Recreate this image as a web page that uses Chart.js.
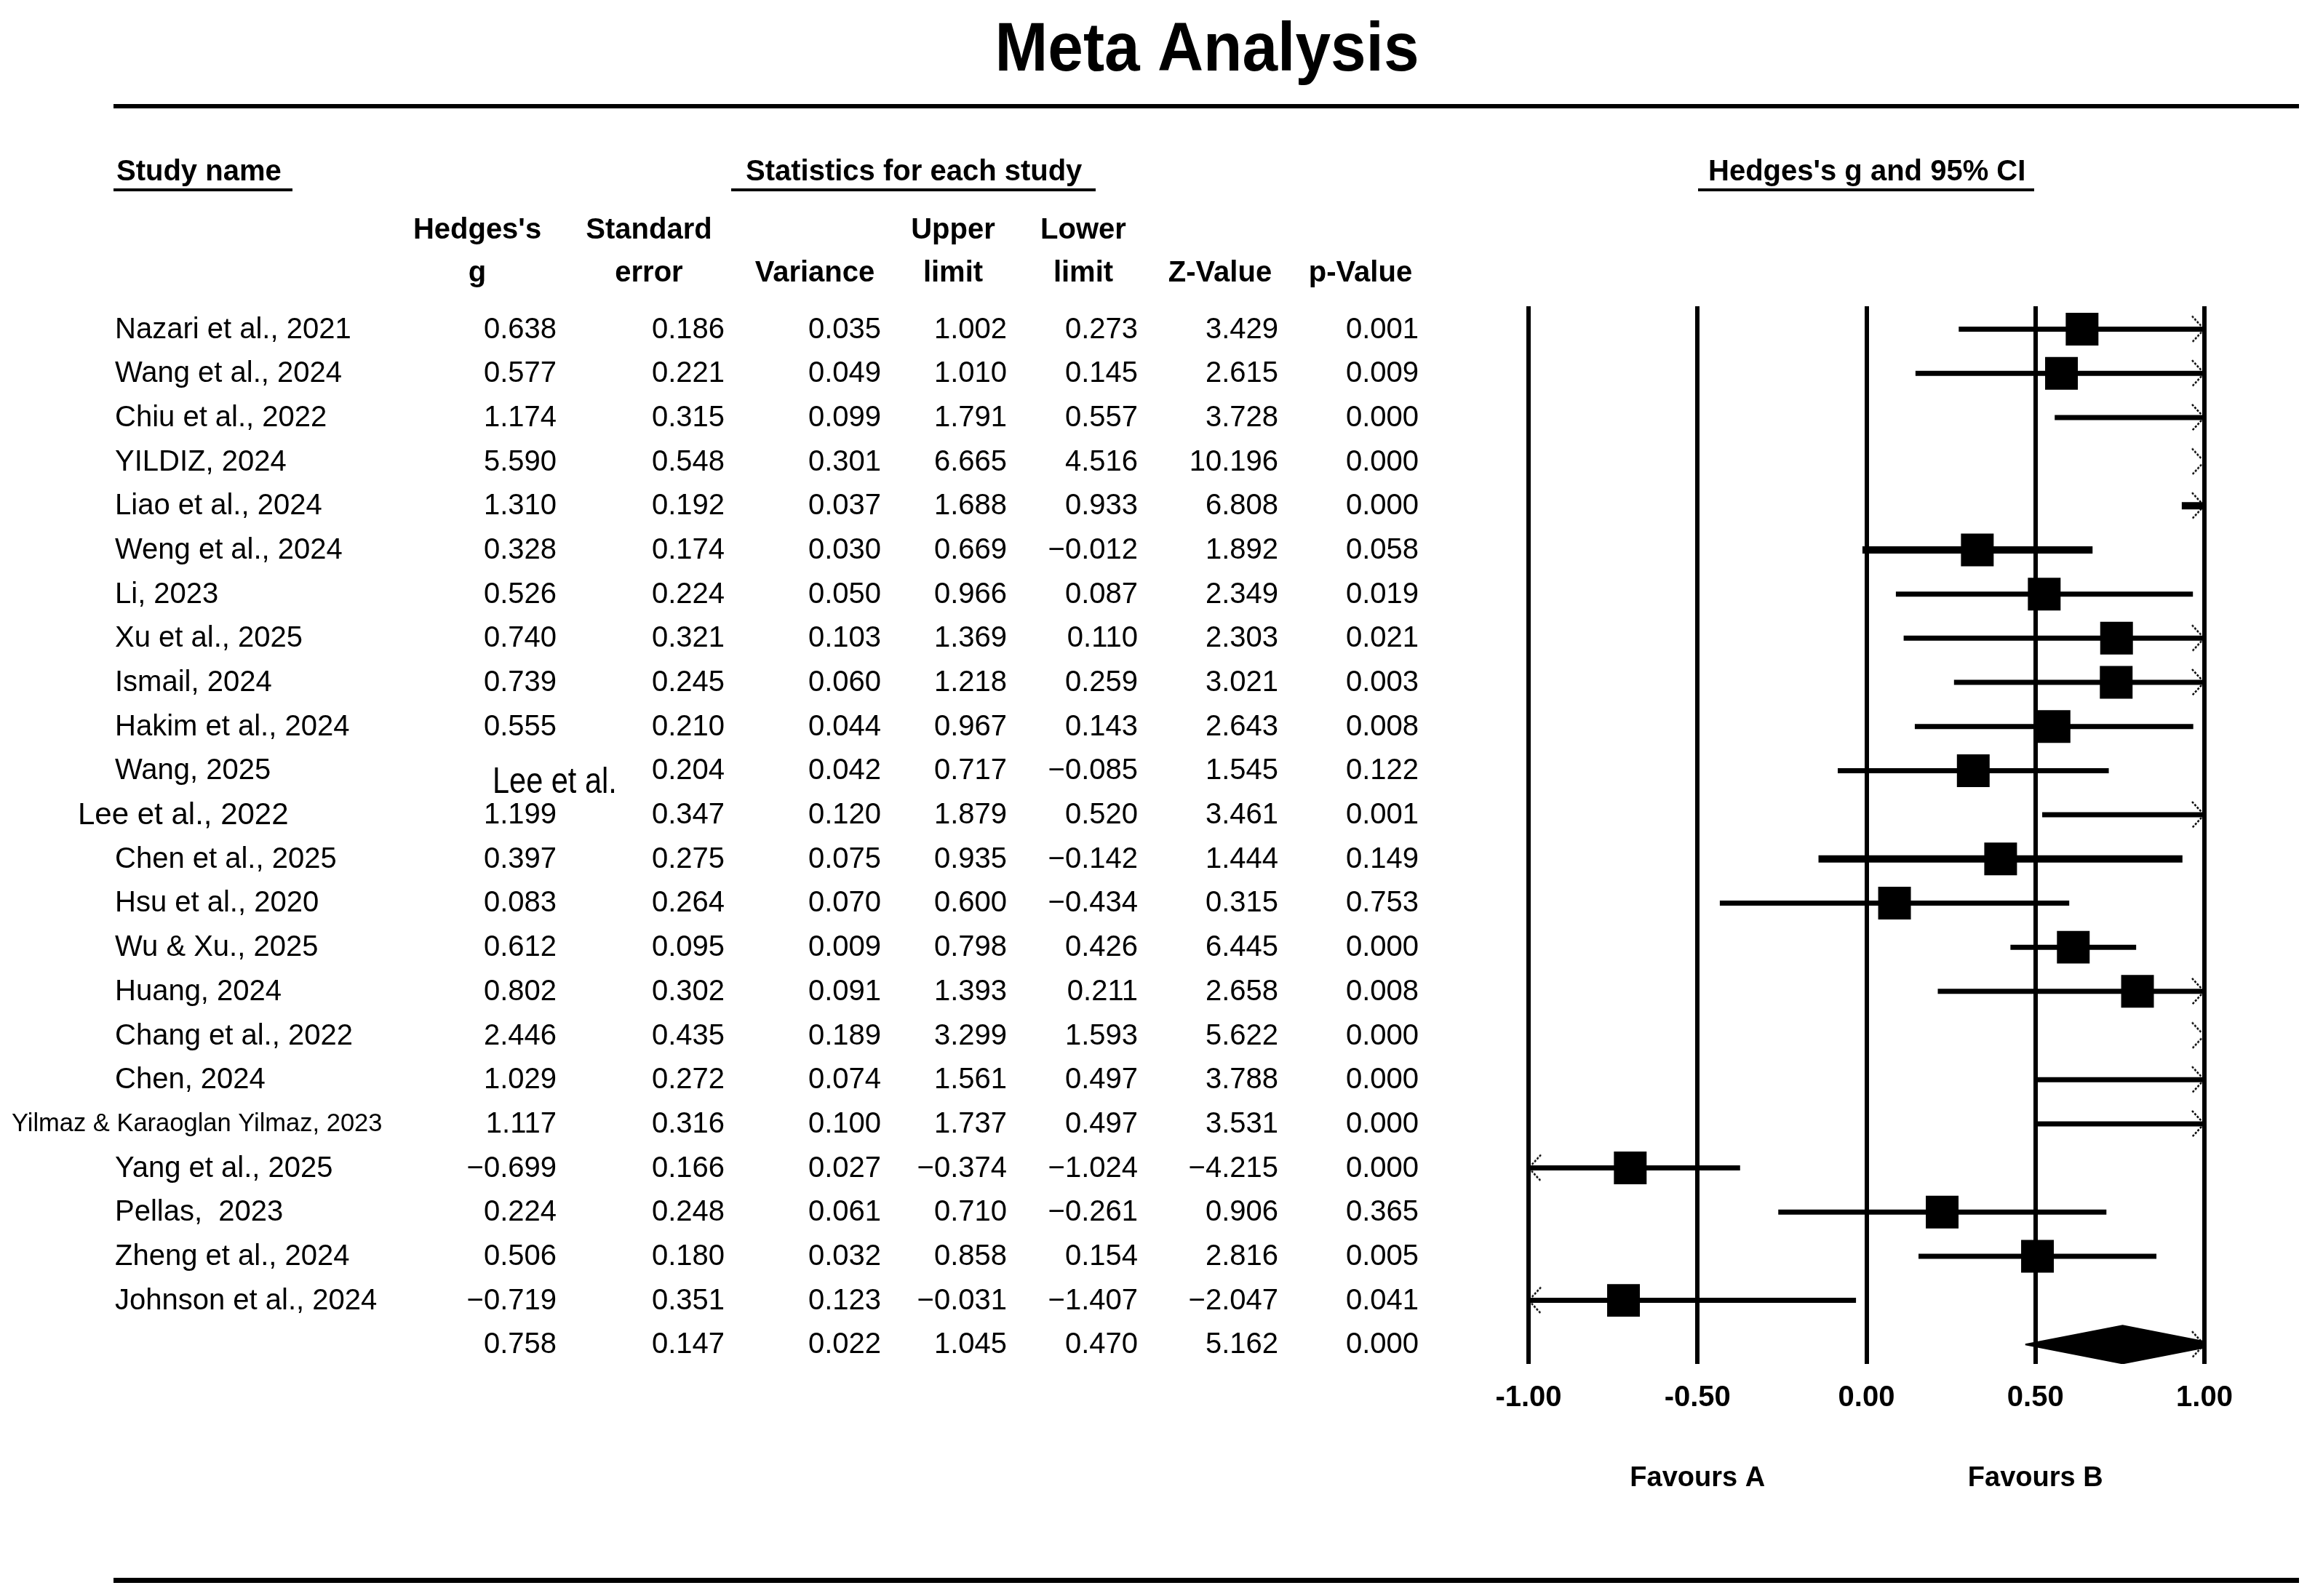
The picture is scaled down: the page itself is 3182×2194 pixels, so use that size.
<!DOCTYPE html>
<html>
<head>
<meta charset="utf-8">
<title>Meta Analysis</title>
<script src="https://cdn.jsdelivr.net/npm/chart.js@4.4.1/dist/chart.umd.min.js"></script>
<style>
  html, body { margin: 0; padding: 0; background: #fff; }
  canvas { display: block; }
</style>
</head>
<body>
<canvas id="forest" width="3182" height="2194"></canvas>
<script>
// rows top to bottom, the last value of each list is the pooled estimate
const studies = [
    "Nazari et al., 2021", "Wang et al., 2024", "Chiu et al., 2022", "YILDIZ, 2024",
    "Liao et al., 2024", "Weng et al., 2024", "Li, 2023", "Xu et al., 2025",
    "Ismail, 2024", "Hakim et al., 2024", "Wang, 2025", "Lee et al., 2022",
    "Chen et al., 2025", "Hsu et al., 2020", "Wu & Xu., 2025", "Huang, 2024",
    "Chang et al., 2022", "Chen, 2024", "Yilmaz & Karaoglan Yilmaz, 2023", "Yang et al., 2025",
    "Pellas,  2023", "Zheng et al., 2024", "Johnson et al., 2024"
];
const hedgesG = [0.638, 0.577, 1.174, 5.590, 1.310, 0.328, 0.526, 0.740, 0.739, 0.555, 0.316, 1.199,
    0.397, 0.083, 0.612, 0.802, 2.446, 1.029, 1.117, -0.699, 0.224, 0.506, -0.719, 0.758];
const stdError = [0.186, 0.221, 0.315, 0.548, 0.192, 0.174, 0.224, 0.321, 0.245, 0.210, 0.204, 0.347,
    0.275, 0.264, 0.095, 0.302, 0.435, 0.272, 0.316, 0.166, 0.248, 0.180, 0.351, 0.147];
const variance = [0.035, 0.049, 0.099, 0.301, 0.037, 0.030, 0.050, 0.103, 0.060, 0.044, 0.042, 0.120,
    0.075, 0.070, 0.009, 0.091, 0.189, 0.074, 0.100, 0.027, 0.061, 0.032, 0.123, 0.022];
const upperLimit = [1.002, 1.010, 1.791, 6.665, 1.688, 0.669, 0.966, 1.369, 1.218, 0.967, 0.717, 1.879,
    0.935, 0.600, 0.798, 1.393, 3.299, 1.561, 1.737, -0.374, 0.710, 0.858, -0.031, 1.045];
const lowerLimit = [0.273, 0.145, 0.557, 4.516, 0.933, -0.012, 0.087, 0.110, 0.259, 0.143, -0.085, 0.520,
    -0.142, -0.434, 0.426, 0.211, 1.593, 0.497, 0.497, -1.024, -0.261, 0.154, -1.407, 0.470];
const zValue = [3.429, 2.615, 3.728, 10.196, 6.808, 1.892, 2.349, 2.303, 3.021, 2.643, 1.545, 3.461,
    1.444, 0.315, 6.445, 2.658, 5.622, 3.788, 3.531, -4.215, 0.906, 2.816, -2.047, 5.162];
const pValue = [0.001, 0.009, 0.000, 0.000, 0.000, 0.058, 0.019, 0.021, 0.003, 0.008, 0.122, 0.001,
    0.149, 0.753, 0.000, 0.008, 0.000, 0.000, 0.000, 0.000, 0.365, 0.005, 0.041, 0.000];

const tickValues = [-1, -0.5, 0, 0.5, 1];
const tickLabels = ["-1.00", "-0.50", "0.00", "0.50", "1.00"];
const favourLabels = ["Favours A", "Favours B"];
const favourAt = [-0.5, 0.5];
const columnHeads = [["Hedges's", "g"], ["Standard", "error"], ["", "Variance"], ["Upper", "limit"],
    ["Lower", "limit"], ["", "Z-Value"], ["", "p-Value"]];
const columns = [hedgesG, stdError, variance, upperLimit, lowerLimit, zValue, pValue];

// layout
const FONT = "'Liberation Sans', Arial, sans-serif";
const xMin = -1, xMax = 1;
const pooled = hedgesG.length - 1;
const colRight = [765, 996, 1211, 1384, 1564, 1757, 1950];
const colHeadX = [656, 892, 1120, 1310, 1489, 1677, 1870];
const nameX = 158;
const nameStyle = { 11: { x: 107, size: 42 }, 18: { x: 16, size: 34.5 } };
const thickRows = [4, 5, 12];
const squareRadius = 31.8;
const diamondHalf = 0.43;

const fmt = v => v.toFixed(3).replace("-", "\u2212");

function text(ctx, str, x, y, font, align, baseline, sx) {
    ctx.save();
    ctx.font = font;
    ctx.textAlign = align;
    ctx.textBaseline = baseline;
    ctx.translate(x, y);
    if (sx) ctx.scale(sx, 1);
    ctx.fillText(str, 0, 0);
    ctx.restore();
}

function chevron(dir) {
    const c = document.createElement("canvas");
    c.width = 40;
    c.height = 44;
    const g = c.getContext("2d");
    g.strokeStyle = "#000";
    g.lineWidth = 2.5;
    g.setLineDash([3, 2]);
    g.translate(20, 22);
    g.scale(dir, 1);
    g.beginPath();
    g.moveTo(-17, -18);
    g.lineTo(-4, -4);
    g.moveTo(-4, 4);
    g.lineTo(-17, 18);
    g.stroke();
    return c;
}

function ciPoints(keep) {
    const pts = [];
    lowerLimit.forEach((lo, i) => {
        if (i === pooled || !keep(i)) return;
        pts.push({ x: lo, y: i }, { x: upperLimit[i], y: i }, { x: null, y: i });
    });
    return pts;
}

const squares = hedgesG.slice(0, pooled).map((g, i) => ({ x: g, y: i }));
const diamond = [
    { x: lowerLimit[pooled], y: pooled },
    { x: hedgesG[pooled], y: pooled - diamondHalf },
    { x: upperLimit[pooled], y: pooled },
    { x: hedgesG[pooled], y: pooled + diamondHalf },
    { x: lowerLimit[pooled], y: pooled }
];
const rightArrows = upperLimit.map((u, i) => (u > xMax ? { x: xMax, y: i } : null)).filter(Boolean);
const leftArrows = lowerLimit.map((l, i) => (l < xMin ? { x: xMin, y: i } : null)).filter(Boolean);

const tablePlugin = {
    id: "studyTable",
    afterDraw(chart) {
        const ctx = chart.ctx;
        const yScale = chart.scales.y;
        const xScale = chart.scales.x;
        ctx.save();
        ctx.fillStyle = "#000";

        text(ctx, "Meta Analysis", 1659, 97, "bold 94px " + FONT, "center", "alphabetic", 0.93);
        ctx.fillRect(156, 143, 3004, 6);
        ctx.fillRect(156, 2169, 3004, 7);

        // group headers
        const bold = "bold 40px " + FONT;
        text(ctx, "Study name", 160, 248, bold, "left", "alphabetic");
        ctx.fillRect(156, 259, 246, 4);
        text(ctx, "Statistics for each study", 1025, 248, bold, "left", "alphabetic");
        ctx.fillRect(1005, 259, 501, 4);
        text(ctx, "Hedges's g and 95% CI", 2348, 248, bold, "left", "alphabetic");
        ctx.fillRect(2334, 259, 462, 4);

        columnHeads.forEach((h, c) => {
            text(ctx, h[0], colHeadX[c], 328, bold, "center", "alphabetic");
            text(ctx, h[1], colHeadX[c], 387, bold, "center", "alphabetic");
        });

        // study rows
        hedgesG.forEach((g, i) => {
            const y = yScale.getPixelForValue(i) + 1;
            if (i < pooled) {
                const st = nameStyle[i] || {};
                text(ctx, studies[i], st.x || nameX, y, (st.size || 40) + "px " + FONT, "left", "middle");
            }
            columns.forEach((col, c) => {
                text(ctx, fmt(col[i]), colRight[c], y, "40px " + FONT, "right", "middle");
            });
        });

        // pasted label box over the Wang, 2025 effect size
        ctx.fillStyle = "#fff";
        ctx.fillRect(655, 1030, 205, 70);
        ctx.fillStyle = "#000";
        text(ctx, "Lee et al.", 677, 1090, "50px " + FONT, "left", "alphabetic", 0.83);

        favourLabels.forEach((l, k) => {
            text(ctx, l, xScale.getPixelForValue(favourAt[k]), 2033, "bold 38px " + FONT, "center", "middle");
        });
        ctx.restore();
    }
};

new Chart(document.getElementById("forest"), {
    type: "line",
    data: {
        datasets: [
            {
                type: "scatter",
                data: squares,
                pointStyle: "rect",
                backgroundColor: "#000",
                borderWidth: 0,
                pointRadius: ctx => {
                    const v = ctx.raw ? ctx.raw.x : NaN;
                    return v >= xMin && v <= xMax ? squareRadius : 0;
                },
                clip: false,
                order: 0
            },
            {
                type: "scatter",
                data: rightArrows,
                pointStyle: chevron(1),
                pointRadius: 5,
                clip: false,
                order: 1
            },
            {
                type: "scatter",
                data: leftArrows,
                pointStyle: chevron(-1),
                pointRadius: 5,
                clip: false,
                order: 1
            },
            {
                type: "line",
                data: ciPoints(i => !thickRows.includes(i)),
                borderColor: "#000",
                borderWidth: 7,
                pointRadius: 0,
                spanGaps: false,
                fill: false,
                clip: 0,
                order: 2
            },
            {
                type: "line",
                data: ciPoints(i => thickRows.includes(i)),
                borderColor: "#000",
                borderWidth: 10,
                pointRadius: 0,
                spanGaps: false,
                fill: false,
                clip: 0,
                order: 2
            },
            {
                type: "line",
                data: diamond,
                borderColor: "#000",
                backgroundColor: "#000",
                borderWidth: 2,
                pointRadius: 0,
                fill: "shape",
                clip: 0,
                order: 2
            }
        ]
    },
    options: {
        responsive: false,
        animation: false,
        events: [],
        layout: { padding: { left: 2101, right: 152, top: 421, bottom: 225 } },
        plugins: {
            legend: { display: false },
            tooltip: { enabled: false }
        },
        scales: {
            x: {
                type: "linear",
                min: xMin,
                max: xMax,
                afterBuildTicks: s => {
                    s.ticks = tickValues.map(v => ({ value: v }));
                },
                ticks: {
                    callback: (v, i) => tickLabels[i],
                    color: "#000",
                    font: { family: FONT, size: 40, weight: "bold" },
                    padding: 23,
                    maxRotation: 0,
                    autoSkip: false
                },
                grid: { color: "#000", lineWidth: 6, drawTicks: false },
                border: { display: false }
            },
            y: {
                type: "linear",
                reverse: true,
                min: -0.52,
                max: 23.44,
                display: false
            }
        }
    },
    plugins: [tablePlugin]
});
</script>
</body>
</html>
